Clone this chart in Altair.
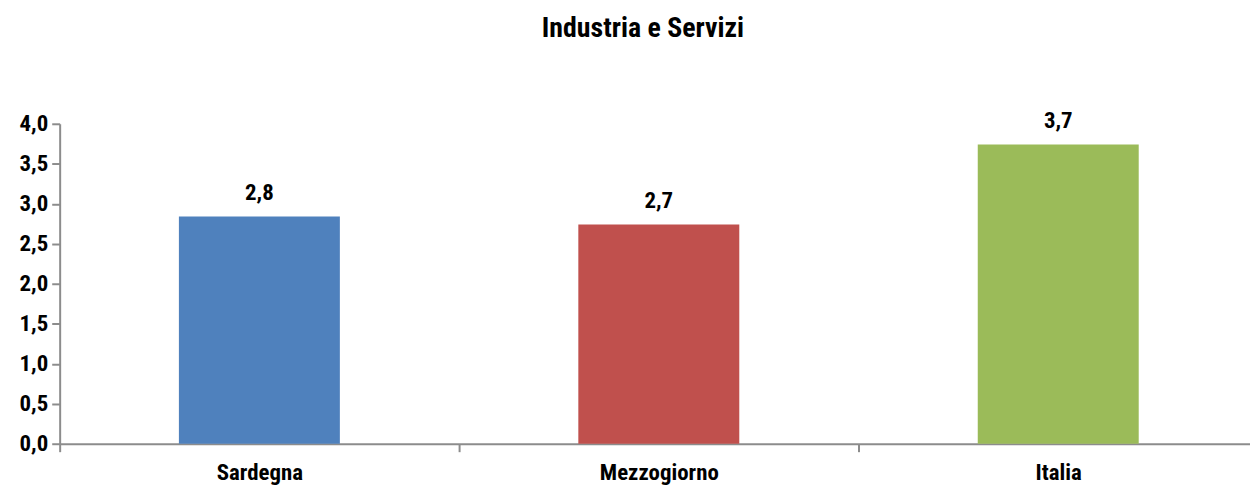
import altair as alt
import pandas as pd

categories = ["Sardegna", "Mezzogiorno", "Italia"]
values = [2.84, 2.74, 3.74]
colors = ["#4F81BD", "#C0504D", "#9BBB59"]
title_text = "Industria e Servizi"
y_ticks = [0, 0.5, 1, 1.5, 2, 2.5, 3, 3.5, 4]

df = pd.DataFrame({"cat": categories, "val": values, "color": colors})

FONT = "Liberation Sans Narrow, Arial Narrow, Roboto Condensed, DejaVu Sans Condensed, Liberation Sans, sans-serif"
AXIS_COLOR = "#8C8C8C"

base = alt.Chart(df).encode(
    x=alt.X("cat:N", sort=categories, title=None,
            scale=alt.Scale(paddingInner=0, paddingOuter=0, range=[0, 1206]),
            axis=alt.Axis(labelAngle=0, labelFont=FONT, labelFontSize=23, labelFontWeight="bold",
                          labelColor="#000000", labelPadding=10, tickBand="extent",
                          tickSize=8, tickColor=AXIS_COLOR, tickWidth=2,
                          domainColor=AXIS_COLOR, domainWidth=2)),
)

bars = base.mark_bar(size=162).encode(
    y=alt.Y("val:Q", title=None,
            scale=alt.Scale(domain=[0, 4], nice=False, zero=True),
            axis=alt.Axis(values=y_ticks, grid=False,
                          labelExpr="replace(format(datum.value, '.1f'), '.', ',')",
                          labelFont=FONT, labelFontSize=23, labelFontWeight="bold",
                          labelColor="#000000", labelPadding=4,
                          tickSize=8, tickColor=AXIS_COLOR, tickWidth=2,
                          domainColor=AXIS_COLOR, domainWidth=2)),
    color=alt.Color("color:N", scale=None, legend=None),
)

labels = base.mark_text(font=FONT, fontSize=23, fontWeight="bold", color="#000000",
                        baseline="bottom", dy=-12).encode(
    y=alt.Y("val:Q"),
    text=alt.Text("label:N"),
).transform_calculate(label="replace(format(datum.val, '.1f'), '.', ',')")

chart = (bars + labels).properties(
    width=1198, height=322,
    title=alt.TitleParams(title_text, font=FONT, fontSize=28, fontWeight="bold",
                          color="#000000", anchor="middle", offset=67, dx=-12),
    autosize=alt.AutoSizeParams(type="none"),
    padding={"left": 52, "top": 115, "right": 0, "bottom": 40},
).configure_view(stroke=None)

chart.save("out.html", embed_options={"renderer": "svg", "actions": False})
